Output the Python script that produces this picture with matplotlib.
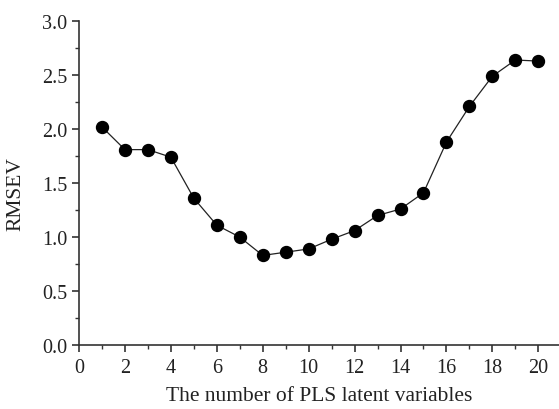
import numpy as np
import matplotlib
matplotlib.use('Agg')
import matplotlib.pyplot as plt
from matplotlib.ticker import MultipleLocator

plt.rcParams['font.family'] = ['Liberation Serif', 'DejaVu Serif']

# Anzahl latenter Variablen und RMSEV
n_latent = [1, 2, 3, 4, 5, 6, 7, 8, 9, 10, 11, 12, 13, 14, 15, 16, 17, 18, 19, 20]
rmsev = [2.02, 1.81, 1.81, 1.74, 1.36, 1.11, 1.00, 0.83, 0.86, 0.89,
         0.98, 1.06, 1.20, 1.26, 1.41, 1.88, 2.21, 2.49, 2.64, 2.63]

fig = plt.figure(figsize=(5.59, 4.10), dpi=100)
ax = fig.add_axes([0.1413, 0.156, 0.8587, 0.790])

ax.plot(n_latent, rmsev, color='#222222', linewidth=0.9, marker='o',
        markersize=8.6, markerfacecolor='black', markeredgecolor='black')

ax.set_xlim(0, 20.9)
ax.set_ylim(0, 3.0)
ax.xaxis.set_major_locator(MultipleLocator(2))
ax.xaxis.set_minor_locator(MultipleLocator(1))
ax.yaxis.set_major_locator(MultipleLocator(0.5))
ax.yaxis.set_minor_locator(MultipleLocator(0.25))
ax.yaxis.set_major_formatter(plt.FormatStrFormatter('%.1f'))

for side in ['top', 'right']:
    ax.spines[side].set_visible(False)
for side in ['left', 'bottom']:
    ax.spines[side].set_color('#333333')
    ax.spines[side].set_linewidth(1.2)

ax.tick_params(which='major', direction='out', length=5, width=1.2,
               color='#333333', labelsize=14.5, labelcolor='#222222')
ax.tick_params(axis='y', which='major', pad=3.5)
ax.tick_params(axis='x', which='major', pad=4.5)
ax.tick_params(which='minor', direction='out', length=3, width=1.0,
               color='#333333')

ax.set_xlabel('The number of PLS latent variables', fontsize=15.5,
              color='#222222', labelpad=6)
ax.set_ylabel('RMSEV', fontsize=15.5, color='#222222')
ax.yaxis.set_label_coords(-0.112, 0.469)

plt.savefig('out.png', dpi=100)
